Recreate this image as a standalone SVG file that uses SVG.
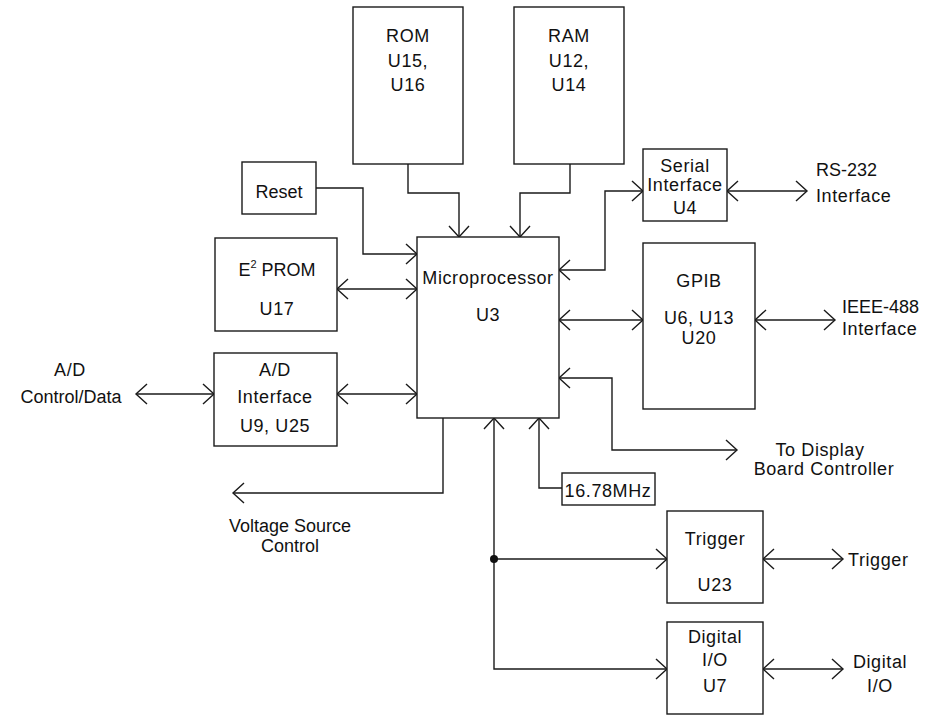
<svg xmlns="http://www.w3.org/2000/svg" width="927" height="715" viewBox="0 0 927 715">
<style>
.box{fill:#fff;stroke:#1a1a1a;stroke-width:1.4}
.ln{fill:none;stroke:#1a1a1a;stroke-width:1.4}
text{font-family:"Liberation Sans",Arial,sans-serif;font-size:18px;fill:#111;text-anchor:middle;letter-spacing:0.6px}
.l{text-anchor:start}
</style>
<defs>
<marker id="a" markerUnits="userSpaceOnUse" markerWidth="14" markerHeight="24" viewBox="-12 -11 14 22" refX="0" refY="0" orient="auto-start-reverse">
<path d="M-11,-10 L0,0 L-11,10" fill="none" stroke="#1a1a1a" stroke-width="1.4"/>
</marker>
</defs>
<rect width="927" height="715" fill="#fff"/>
<g id="connectors">
<path class="ln" d="M408,164 V193 H459 V237" marker-end="url(#a)"/>
<path class="ln" d="M570,164 V193 H520 V237" marker-end="url(#a)"/>
<path class="ln" d="M316,188 H363 V254 H417" marker-end="url(#a)"/>
<path class="ln" d="M337,289 H417" marker-start="url(#a)" marker-end="url(#a)"/>
<path class="ln" d="M136,394 H214" marker-start="url(#a)" marker-end="url(#a)"/>
<path class="ln" d="M337,394 H417" marker-start="url(#a)" marker-end="url(#a)"/>
<path class="ln" d="M559,270 H605 V191 H643" marker-start="url(#a)" marker-end="url(#a)"/>
<path class="ln" d="M727,191 H807" marker-start="url(#a)" marker-end="url(#a)"/>
<path class="ln" d="M559,320 H643" marker-start="url(#a)" marker-end="url(#a)"/>
<path class="ln" d="M755,320 H835" marker-start="url(#a)" marker-end="url(#a)"/>
<path class="ln" d="M559,378 H612 V450 H737" marker-start="url(#a)" marker-end="url(#a)"/>
<path class="ln" d="M443,418 V493 H233" marker-end="url(#a)"/>
<path class="ln" d="M562,488 H539 V418" marker-end="url(#a)"/>
<path class="ln" d="M667,669 H494 V418" marker-start="url(#a)" marker-end="url(#a)"/>
<path class="ln" d="M494,559 H667" marker-end="url(#a)"/>
<circle cx="494" cy="559" r="4" fill="#111"/>
<path class="ln" d="M763,559 H843" marker-start="url(#a)" marker-end="url(#a)"/>
<path class="ln" d="M763,669 H843" marker-start="url(#a)" marker-end="url(#a)"/>
</g>
<g id="rom"><rect class="box" x="353" y="7" width="110" height="157"/>
<text x="408" y="42">ROM</text><text x="408" y="67">U15,</text><text x="408" y="91">U16</text></g>
<g id="ram"><rect class="box" x="514" y="7" width="110" height="157"/>
<text x="569" y="42">RAM</text><text x="569" y="67">U12,</text><text x="569" y="91">U14</text></g>
<g id="reset"><rect class="box" x="242" y="162" width="74" height="52"/>
<text x="279" y="198" style="letter-spacing:0">Reset</text></g>
<g id="eeprom"><rect class="box" x="215" y="238" width="122" height="93"/>
<text x="277" y="276" style="letter-spacing:0">E<tspan font-size="11" dy="-8">2</tspan><tspan dy="8"> PROM</tspan></text>
<text x="277" y="315">U17</text></g>
<g id="micro"><rect class="box" x="417" y="237" width="142" height="181"/>
<text x="488" y="284">Microprocessor</text><text x="488" y="321">U3</text></g>
<g id="adif"><rect class="box" x="214" y="353" width="123" height="93"/>
<text x="275" y="376">A/D</text><text x="275" y="403">Interface</text><text x="275" y="432">U9, U25</text></g>
<g id="serial"><rect class="box" x="643" y="149" width="84" height="72"/>
<text x="685" y="172">Serial</text><text x="685" y="191">Interface</text><text x="685" y="214">U4</text></g>
<g id="gpib"><rect class="box" x="643" y="243" width="112" height="166"/>
<text x="699" y="287">GPIB</text><text x="699" y="324">U6, U13</text><text x="699" y="344">U20</text></g>
<g id="clock"><rect class="box" x="562" y="473" width="93" height="32"/>
<text x="608" y="497">16.78MHz</text></g>
<g id="trigger"><rect class="box" x="667" y="511" width="96" height="92"/>
<text x="715" y="545">Trigger</text><text x="715" y="591">U23</text></g>
<g id="digio"><rect class="box" x="667" y="622" width="96" height="92"/>
<text x="715" y="643">Digital</text><text x="715" y="666">I/O</text><text x="715" y="692">U7</text></g>
<g id="labels">
<text x="70" y="376">A/D</text>
<text x="71" y="403" style="letter-spacing:0">Control/Data</text>
<text x="290" y="532" style="letter-spacing:0">Voltage Source</text>
<text x="290" y="552" style="letter-spacing:0">Control</text>
<text class="l" x="816" y="176" style="letter-spacing:0">RS-232</text>
<text class="l" x="816" y="202">Interface</text>
<text class="l" x="842" y="313" style="letter-spacing:0">IEEE-488</text>
<text class="l" x="842" y="335">Interface</text>
<text x="820" y="456">To Display</text>
<text x="824" y="475">Board Controller</text>
<text class="l" x="848" y="566">Trigger</text>
<text x="880" y="668">Digital</text>
<text x="880" y="692">I/O</text>
</g>
</svg>
